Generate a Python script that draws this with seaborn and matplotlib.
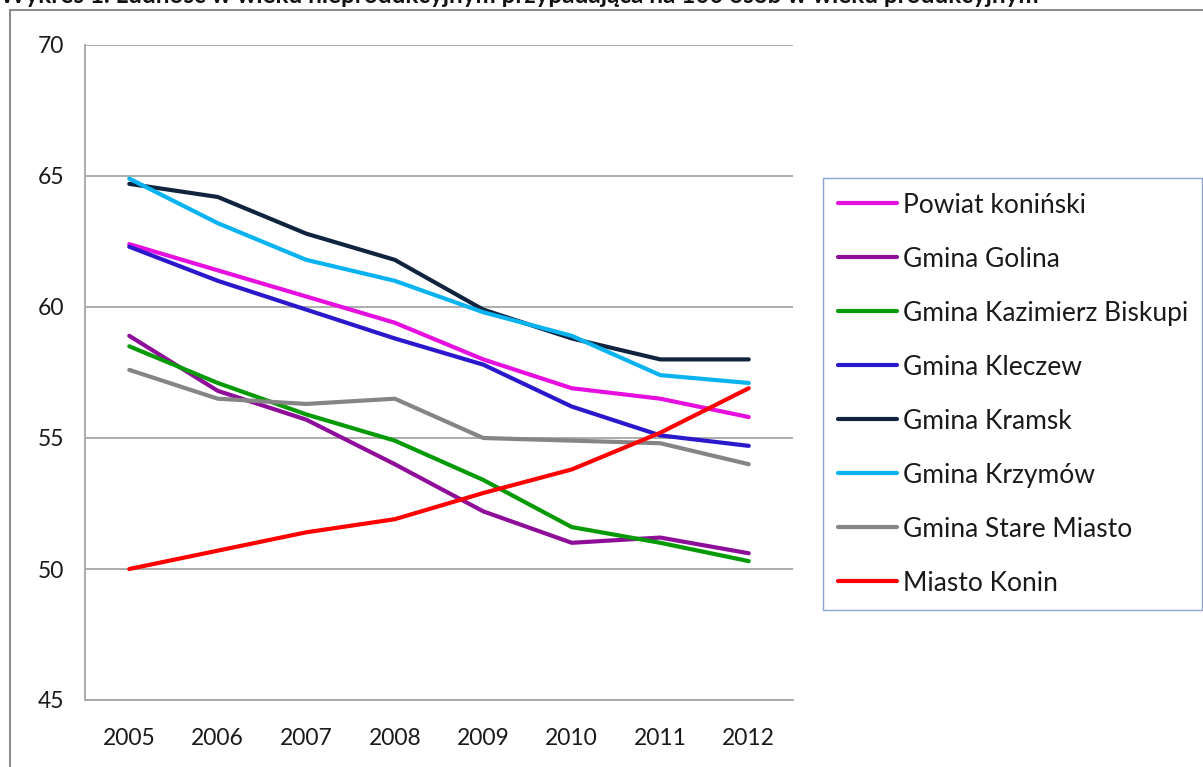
import matplotlib
matplotlib.use("Agg")
import matplotlib.pyplot as plt
from matplotlib.lines import Line2D
import seaborn as sns
import pandas as pd

years = [2005, 2006, 2007, 2008, 2009, 2010, 2011, 2012]

powiat_koninski = [62.4, 61.4, 60.4, 59.4, 58.0, 56.9, 56.5, 55.8]
gmina_golina = [58.9, 56.8, 55.7, 54.0, 52.2, 51.0, 51.2, 50.6]
gmina_kazimierz = [58.5, 57.1, 55.9, 54.9, 53.4, 51.6, 51.0, 50.3]
gmina_kleczew = [62.3, 61.0, 59.9, 58.8, 57.8, 56.2, 55.1, 54.7]
gmina_kramsk = [64.7, 64.2, 62.8, 61.8, 59.9, 58.8, 58.0, 58.0]
gmina_krzymow = [64.9, 63.2, 61.8, 61.0, 59.8, 58.9, 57.4, 57.1]
gmina_stare_miasto = [57.6, 56.5, 56.3, 56.5, 55.0, 54.9, 54.8, 54.0]
miasto_konin = [50.0, 50.7, 51.4, 51.9, 52.9, 53.8, 55.2, 56.9]

series_names = ["Powiat koniński", "Gmina Golina", "Gmina Kazimierz Biskupi",
                "Gmina Kleczew", "Gmina Kramsk", "Gmina Krzymów",
                "Gmina Stare Miasto", "Miasto Konin"]
series_values = [powiat_koninski, gmina_golina, gmina_kazimierz, gmina_kleczew,
                 gmina_kramsk, gmina_krzymow, gmina_stare_miasto, miasto_konin]
colors = ["#E70FDF", "#8E0E99", "#079A07", "#2A19CC",
          "#10243F", "#08B3F0", "#858585", "#FF0000"]

title = "Wykres 1. Ludność w wieku nieprodukcyjnym przypadająca na 100 osób w wieku produkcyjnym"

rows = []
for name, vals in zip(series_names, series_values):
    for y, v in zip(years, vals):
        rows.append({"Rok": y, "Wartość": v, "Seria": name})
df = pd.DataFrame(rows)

sns.set_style("white")
plt.rcParams['font.family'] = ['Lato', 'DejaVu Sans']

W, H = 1203, 767
fig = plt.figure(figsize=(W / 100, H / 100), dpi=100)
ax = fig.add_axes([85 / W, 1 - 700 / H, (793 - 85) / W, (700 - 45) / H])

sns.lineplot(data=df, x="Rok", y="Wartość", hue="Seria", hue_order=series_names,
             palette=colors, linewidth=3.0, ax=ax, legend=False, sort=False)

grid_c = "#A6A6A6"
ax.set_xlim(years[0] - 0.5, years[-1] + 0.5)
ax.set_ylim(45, 70)
ax.set_yticks([45, 50, 55, 60, 65, 70])
ax.yaxis.grid(True, color=grid_c, linewidth=1.3)
ax.xaxis.grid(False)
ax.set_axisbelow(True)
ax.set_xticks(years)
ax.set_xticklabels([str(y) for y in years])
ax.set_xticks([y - 0.5 for y in years] + [years[-1] + 0.5], minor=True)
ax.tick_params(axis="x", which="major", length=0, pad=20, labelsize=16.5, colors="#1a1a1a")
ax.tick_params(axis="x", which="minor", length=7, width=1.3, color=grid_c, direction="out")
ax.tick_params(axis="y", which="major", length=7, width=1.3, color=grid_c, direction="out",
               pad=8, labelsize=16.5, labelcolor="#1a1a1a")
ax.set_xlabel("")
ax.set_ylabel("")
for side in ["top", "right"]:
    ax.spines[side].set_visible(False)
for side in ["left", "bottom"]:
    ax.spines[side].set_visible(True)
    ax.spines[side].set_color(grid_c)
    ax.spines[side].set_linewidth(1.3)

handles = [Line2D([0], [0], color=c, linewidth=3.0) for c in colors]
leg = fig.legend(handles, series_names, loc="upper left",
                 bbox_to_anchor=(823 / W, 1 - 178 / H), bbox_transform=fig.transFigure,
                 frameon=True, fancybox=False, fontsize=19, handlelength=2.27,
                 handletextpad=0.2, labelspacing=1.10, borderpad=0.55,
                 borderaxespad=0)
leg.get_frame().set_edgecolor("#6F8FC3")
leg.get_frame().set_linewidth(1.0)
for t in leg.get_texts():
    t.set_color("#1a1a1a")

# chart outer border (partially visible)
fig.add_artist(Line2D([10 / W, 10 / W], [0, 1 - 10 / H], transform=fig.transFigure,
                      color="#8C8C8C", linewidth=1.5))
fig.add_artist(Line2D([10 / W, 1], [1 - 10 / H, 1 - 10 / H], transform=fig.transFigure,
                      color="#8C8C8C", linewidth=1.5))

fig.text(0.0, 1 - 3 / H, title, ha="left", va="baseline", fontsize=17.5,
         fontweight="bold", color="#111111")

fig.savefig("out.png", dpi=100, facecolor="white")
